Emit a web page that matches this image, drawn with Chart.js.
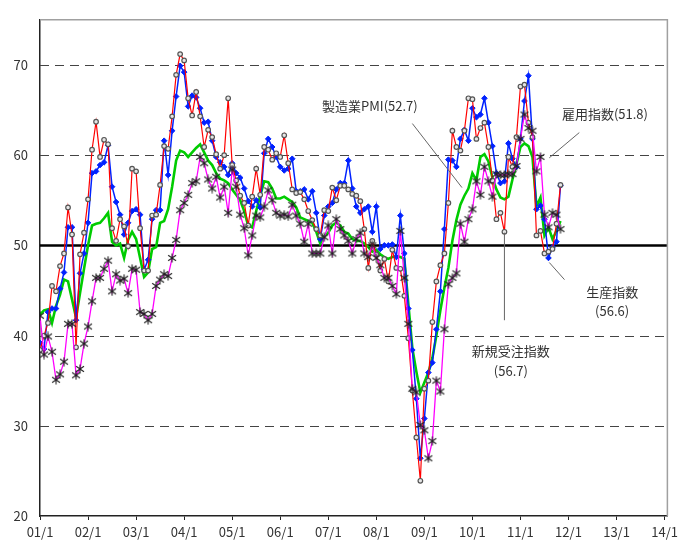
<!DOCTYPE html>
<html lang="ja">
<head>
<meta charset="utf-8">
<script src="https://cdn.jsdelivr.net/npm/chart.js@4.4.0/dist/chart.umd.min.js"></script>
<style>
  html, body { margin: 0; padding: 0; background: #fff; }
</style>
</head>
<body>
<canvas id="pmiChart" width="682" height="540"></canvas>
<script>
// monthly series, 2001/1 .. 2011/11
const xTickLabels = ["01/1", "02/1", "03/1", "04/1", "05/1", "06/1", "07/1",
  "08/1", "09/1", "10/1", "11/1", "12/1", "13/1", "14/1"];
const yTickValues = [20, 30, 40, 50, 60, 70];
const gridValues = [30, 40, 50, 60, 70];

// 製造業PMI
const pmi = [
  42.3, 42.8, 42.9, 41.4, 43.3, 44.5, 46.2, 46.0, 44.0, 42.0, 44.7, 47.4,
  50.0, 52.2, 52.4, 52.5, 53.0, 53.6, 50.4, 50.0, 50.2, 48.6, 50.6, 51.5,
  50.7, 48.6, 46.5, 47.0, 49.6, 49.8, 52.5, 52.7, 54.0, 56.5, 59.4, 60.5,
  60.3, 59.8, 60.3, 60.8, 61.2, 60.3, 59.4, 58.9, 58.0, 57.4, 57.2, 56.9,
  56.2, 55.6, 55.0, 53.8, 52.2, 52.0, 53.8, 55.5, 57.1, 57.0, 56.3, 55.2,
  55.2, 55.4, 55.1, 54.8, 54.2, 53.1, 52.9, 52.7, 52.5, 51.5, 50.2, 51.0,
  51.4, 52.2, 52.5, 52.2, 51.5, 51.3, 50.7, 50.5, 50.5, 50.2, 49.8, 49.3,
  49.5, 49.0, 48.7, 48.5, 48.7, 48.8, 48.7, 48.5, 43.5, 38.6, 36.0, 33.7,
  34.8, 35.9, 37.5, 40.0, 42.8, 45.3, 47.5, 50.5, 52.8, 54.5, 55.5, 56.3,
  58.0, 57.2, 59.8, 60.1, 59.3, 57.5, 56.2, 55.3, 55.1, 55.4, 57.3, 59.0,
  60.9, 61.3, 61.0, 59.8, 54.3, 55.3, 51.1, 52.0, 50.7, 51.6, 52.7
];

// 新規受注指数
const newOrders = [
  38.4, 40.0, 41.4, 45.5, 44.9, 47.7, 49.1, 54.2, 51.2, 38.7, 49.0, 51.4,
  55.1, 60.6, 63.7, 59.8, 61.7, 61.2, 51.9, 50.5, 52.9, 52.1, 49.9, 58.5,
  58.2, 51.9, 47.2, 47.2, 53.3, 53.4, 56.7, 61.0, 60.7, 64.3, 68.9, 71.2,
  70.5, 66.3, 64.4, 67.0, 64.3, 60.9, 62.8, 62.0, 60.1, 58.5, 60.0, 66.3,
  58.9, 57.2, 55.5, 54.7, 52.2, 55.4, 58.5, 55.6, 60.9, 60.6, 59.5, 60.2,
  59.8, 62.2, 59.1, 56.2, 55.8, 55.9, 55.1, 53.8, 52.8, 51.8, 51.1, 53.9,
  53.8, 56.4, 55.0, 56.6, 56.6, 56.2, 55.7, 55.5, 54.9, 51.8, 47.5, 50.5,
  49.0, 47.2, 48.5, 46.0, 49.5, 47.5, 47.4, 44.4, 39.7, 33.9, 28.7, 23.9,
  34.1, 35.0, 41.5, 46.0, 47.8, 49.1, 54.7, 62.7, 60.9, 60.5, 62.7, 66.3,
  66.2, 61.8, 63.0, 63.6, 60.9, 57.2, 52.9, 53.6, 51.5, 59.8, 58.7, 62.0,
  67.6, 67.8, 63.6, 62.0, 51.1, 51.6, 49.1, 49.3, 49.6, 52.4, 56.7
];

// 生産指数
const production = [
  39.2, 38.5, 42.6, 43.0, 43.0, 45.2, 47.0, 52.0, 52.0, 41.7, 46.9, 49.1,
  52.5, 58.0, 58.2, 58.9, 59.2, 61.1, 56.5, 54.8, 53.4, 51.2, 52.5, 53.8,
  54.0, 53.4, 47.3, 48.4, 52.9, 53.9, 53.9, 61.6, 57.8, 62.7, 66.5, 69.9,
  69.2, 65.4, 66.6, 66.4, 65.2, 63.6, 63.7, 61.6, 59.8, 59.2, 58.7, 57.8,
  59.1, 58.0, 57.5, 56.3, 54.9, 54.3, 55.0, 54.2, 60.2, 61.8, 60.9, 59.8,
  58.7, 58.3, 58.5, 59.6, 56.0, 56.0, 56.2, 55.1, 56.0, 53.6, 50.7, 53.3,
  54.3, 54.7, 56.2, 56.9, 56.9, 59.4, 56.3, 54.3, 53.6, 54.0, 54.3, 51.5,
  54.3, 49.6, 50.0, 50.0, 50.1, 48.7, 53.3, 49.1, 43.0, 38.4, 33.0, 26.4,
  30.8, 35.9, 37.0, 40.7, 44.9, 51.8, 59.5, 59.4, 58.7, 61.8, 62.8, 61.6,
  65.2, 64.2, 64.5, 66.3, 63.6, 61.0, 58.0, 56.9, 57.1, 61.3, 59.6, 58.7,
  61.8, 66.0, 68.8, 61.8, 54.0, 54.4, 52.9, 48.6, 49.8, 50.4, 56.6
];

// 雇用指数
const employment = [
  42.2, 37.9, 39.9, 38.2, 35.1, 35.7, 37.1, 41.3, 41.3, 35.6, 36.3, 39.1,
  41.0, 43.8, 46.4, 46.4, 47.4, 48.3, 44.9, 46.8, 46.1, 46.3, 44.7, 47.4,
  47.3, 42.6, 42.4, 41.7, 42.4, 45.5, 46.2, 46.8, 46.6, 48.6, 50.6, 53.9,
  54.7, 55.6, 56.9, 57.1, 59.8, 59.1, 57.3, 56.3, 57.6, 55.3, 56.5, 53.6,
  58.4, 56.5, 53.4, 51.9, 48.9, 51.1, 53.3, 53.1, 54.3, 56.1, 55.0, 53.6,
  53.3, 53.4, 53.2, 54.5, 53.3, 52.4, 50.4, 52.4, 49.1, 49.1, 49.1, 50.9,
  52.2, 49.1, 52.9, 51.8, 51.1, 50.5, 49.1, 50.7, 51.4, 49.1, 48.7, 50.0,
  48.6, 47.8, 46.4, 46.4, 45.5, 44.6, 51.6, 46.4, 41.3, 34.1, 33.7, 30.1,
  29.5, 26.4, 28.3, 35.0, 33.8, 40.7, 45.7, 46.4, 46.9, 52.4, 50.4, 52.9,
  54.0, 57.1, 55.6, 58.7, 57.1, 55.4, 57.9, 57.8, 57.8, 57.9, 57.9, 58.8,
  61.8, 64.5, 63.0, 62.7, 58.2, 59.8, 53.4, 52.0, 53.6, 53.4, 51.8
];

// callouts, placed in data units (month index, index value)
const notes = [
  { texts: [["製造業PMI(52.7)", 82.4, 65.4]], line: [93.0, 63.5, 105.4, 56.4] },
  { texts: [["雇用指数(51.8)", 141.1, 64.5]], line: [134.7, 62.5, 127.2, 59.7] },
  { texts: [["生産指数", 142.9, 44.8], ["(56.6)", 142.9, 42.7]], line: [127.2, 48.1, 131.0, 46.2] },
  { texts: [["新規受注指数", 117.6, 38.3], ["(56.7)", 117.6, 36.1]], line: [116.0, 51.4, 116.0, 41.7] }
];

const FONT = '"Noto Sans CJK JP", "Noto Sans", sans-serif';

function toPoints(arr) {
  return arr.map((v, i) => ({ x: i, y: v }));
}

function makeAsterisk(size, color) {
  const c = document.createElement("canvas");
  c.width = size;
  c.height = size;
  const g = c.getContext("2d");
  const m = size / 2;
  const r = size / 2 - 0.5;
  g.strokeStyle = color;
  g.lineWidth = 1.1;
  g.beginPath();
  g.moveTo(m, m - r); g.lineTo(m, m + r);
  g.moveTo(m - r * 0.87, m - r * 0.6); g.lineTo(m + r * 0.87, m + r * 0.6);
  g.moveTo(m - r * 0.87, m + r * 0.6); g.lineTo(m + r * 0.87, m - r * 0.6);
  g.stroke();
  return c;
}

const gridPlugin = {
  id: "gridPlugin",
  beforeDatasetsDraw(chart) {
    const { ctx, chartArea: a, scales: { y } } = chart;
    ctx.save();
    gridValues.forEach(v => {
      const py = Math.round(y.getPixelForValue(v)) + 0.5;
      ctx.beginPath();
      if (v === 50) {
        ctx.setLineDash([]);
        ctx.lineWidth = 2.5;
        ctx.strokeStyle = "#000";
      } else {
        ctx.setLineDash([9, 6]);
        ctx.lineWidth = 1.2;
        ctx.strokeStyle = "#444";
      }
      ctx.moveTo(a.left, py);
      ctx.lineTo(a.right, py);
      ctx.stroke();
    });
    ctx.setLineDash([]);
    ctx.strokeStyle = "#a0a0a0";
    ctx.lineWidth = 1.5;
    ctx.beginPath();
    ctx.moveTo(a.left, a.top);
    ctx.lineTo(a.right, a.top);
    ctx.lineTo(a.right, a.bottom);
    ctx.stroke();
    ctx.restore();
  },
  afterDatasetsDraw(chart) {
    const { ctx, scales: { x, y } } = chart;
    ctx.save();
    ctx.strokeStyle = "#666";
    ctx.lineWidth = 1;
    ctx.fillStyle = "#333";
    ctx.font = "13px " + FONT;
    ctx.textAlign = "center";
    ctx.textBaseline = "middle";
    notes.forEach(n => {
      const [x1, y1, x2, y2] = n.line;
      ctx.beginPath();
      ctx.moveTo(x.getPixelForValue(x1), y.getPixelForValue(y1));
      ctx.lineTo(x.getPixelForValue(x2), y.getPixelForValue(y2));
      ctx.stroke();
      n.texts.forEach(([t, tx, ty]) => {
        ctx.fillText(t, x.getPixelForValue(tx), y.getPixelForValue(ty));
      });
    });
    ctx.restore();
  }
};

const ctx = document.getElementById("pmiChart").getContext("2d");

new Chart(ctx, {
  type: "line",
  data: {
    datasets: [
      {
        label: "雇用指数",
        data: toPoints(employment),
        borderColor: "#ff00ff",
        borderWidth: 1.3,
        pointStyle: makeAsterisk(10, "#222"),
        pointRadius: 5,
        order: 1
      },
      {
        label: "新規受注指数",
        data: toPoints(newOrders),
        borderColor: "#ff0000",
        borderWidth: 1.2,
        pointStyle: "circle",
        pointRadius: 2.3,
        pointBorderWidth: 1.2,
        pointBorderColor: "#555",
        pointBackgroundColor: "#e6e6e6",
        order: 2
      },
      {
        label: "生産指数",
        data: toPoints(production),
        borderColor: "#0022ff",
        borderWidth: 1.5,
        pointStyle: "rectRot",
        pointRadius: 2.8,
        pointBorderWidth: 1,
        pointBorderColor: "#0022ff",
        pointBackgroundColor: "#0022ff",
        order: 3
      },
      {
        label: "製造業PMI",
        data: toPoints(pmi),
        borderColor: "#00cc00",
        borderWidth: 2.6,
        pointRadius: 0,
        order: 4
      }
    ]
  },
  options: {
    responsive: false,
    animation: false,
    layout: { padding: { top: 13, right: 10, left: 0, bottom: 0 } },
    elements: { line: { tension: 0 } },
    plugins: {
      legend: { display: false },
      tooltip: { enabled: false }
    },
    scales: {
      x: {
        type: "linear",
        min: 0,
        max: 156.7,
        afterBuildTicks: s => { s.ticks = xTickLabels.map((_, i) => ({ value: i * 12 })); },
        afterFit: s => { s.height = 24; },
        grid: { drawOnChartArea: false, drawTicks: true, tickLength: 4, tickColor: "#222", tickWidth: 1 },
        border: { color: "#222", width: 1.5 },
        ticks: {
          callback: v => xTickLabels[Math.round(v / 12)],
          color: "#333",
          font: { family: FONT, size: 13 },
          padding: 4,
          maxRotation: 0,
          autoSkip: false
        }
      },
      y: {
        min: 20,
        max: 75,
        afterBuildTicks: s => { s.ticks = yTickValues.map(v => ({ value: v })); },
        afterFit: s => { s.width = 40; },
        grid: { display: false, drawTicks: false },
        border: { color: "#222", width: 1.5 },
        ticks: {
          color: "#333",
          font: { family: FONT, size: 13 },
          padding: 12
        }
      }
    }
  },
  plugins: [gridPlugin]
});
</script>
</body>
</html>
